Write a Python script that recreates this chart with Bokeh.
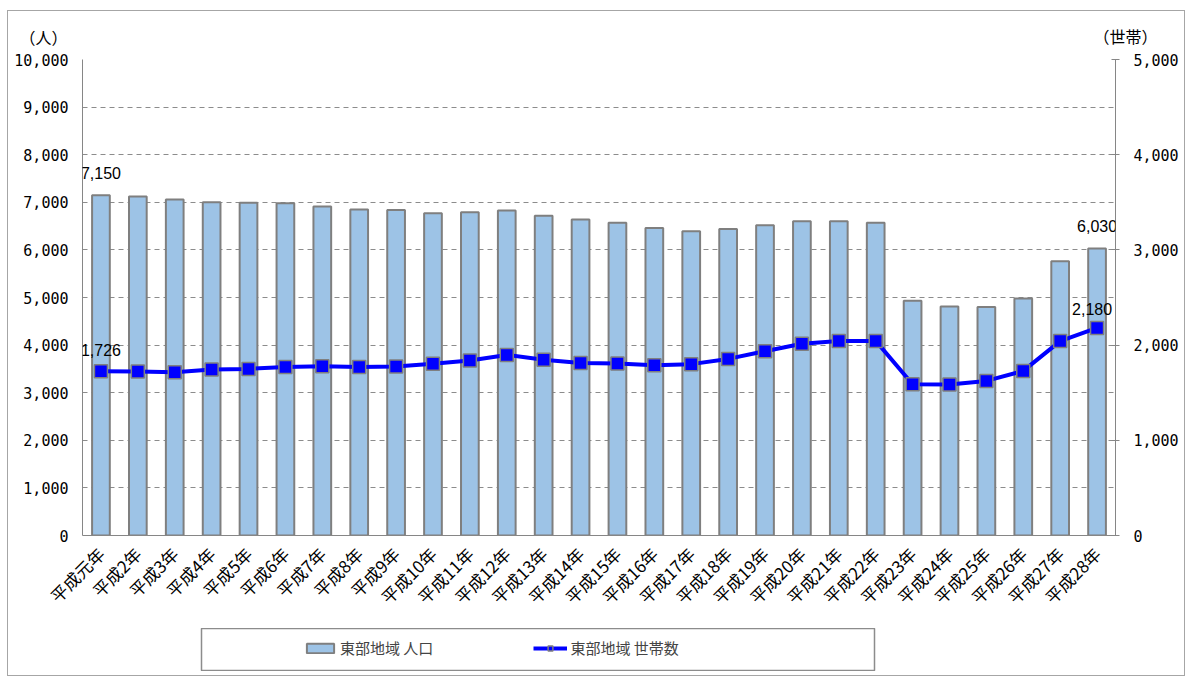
from bokeh.plotting import figure
from bokeh.models import (Range1d, LinearAxis, FixedTicker, Label, Legend, LegendItem,
                          NumeralTickFormatter, FactorRange)
from bokeh.layouts import column
from bokeh.embed import file_html
from bokeh.resources import INLINE
import math

years = ["平成元年", "平成2年", "平成3年", "平成4年", "平成5年", "平成6年", "平成7年",
         "平成8年", "平成9年", "平成10年", "平成11年", "平成12年", "平成13年", "平成14年",
         "平成15年", "平成16年", "平成17年", "平成18年", "平成19年", "平成20年", "平成21年",
         "平成22年", "平成23年", "平成24年", "平成25年", "平成26年", "平成27年", "平成28年"]
population = [7150, 7120, 7060, 7000, 6990, 6980, 6910, 6850, 6840, 6770, 6790, 6830, 6720, 6640,
              6570, 6460, 6390, 6440, 6520, 6600, 6600, 6570, 4930, 4810, 4800, 4980, 5760, 6030]
households = [1726, 1722, 1716, 1743, 1750, 1771, 1778, 1771, 1775, 1803, 1838, 1897, 1845, 1813,
              1806, 1789, 1800, 1855, 1936, 2015, 2044, 2044, 1589, 1586, 1624, 1729, 2042, 2180]
left_ticks = [0, 1000, 2000, 3000, 4000, 5000, 6000, 7000, 8000, 9000, 10000]
right_ticks = [0, 1000, 2000, 3000, 4000, 5000]
series_names = ["東部地域 人口", "東部地域 世帯数"]
unit_left = "（人）"
unit_right = "（世帯）"

CJK = "Noto Sans CJK JP"
MONO = "DejaVu Sans Mono"
GRAY = "#868686"
BAR_FILL = "#9DC3E6"
BAR_LINE = "#7F7F7F"
BLUE = "#0000FF"

p = figure(width=1176, height=617, x_range=FactorRange(*years), y_range=Range1d(0, 10000),
           output_backend="svg", toolbar_location=None,
           min_border_left=74, min_border_right=69, min_border_top=47, min_border_bottom=93)
p.extra_y_ranges = {"hh": Range1d(0, 5000)}
p.outline_line_color = None
p.background_fill_color = "white"

# grid
p.xgrid.grid_line_color = None
p.ygrid.ticker = FixedTicker(ticks=left_ticks)
p.ygrid.grid_line_color = "#8c8c8c"
p.ygrid.grid_line_dash = "5 4"
p.ygrid.grid_line_width = 1

# left axis
ya = p.yaxis[0]
ya.ticker = FixedTicker(ticks=left_ticks)
ya.formatter = NumeralTickFormatter(format="0,0")
ya.axis_line_color = GRAY
ya.major_tick_in = 0
ya.major_tick_out = 0
ya.minor_tick_line_color = None
ya.major_label_standoff = 14
ya.major_label_text_font = MONO
ya.major_label_text_font_size = "15px"
ya.major_label_text_color = "black"

# right axis
ra = LinearAxis(y_range_name="hh", ticker=FixedTicker(ticks=right_ticks),
                formatter=NumeralTickFormatter(format="0,0"))
ra.axis_line_color = GRAY
ra.major_tick_line_color = GRAY
ra.major_tick_in = 4
ra.major_tick_out = 4
ra.minor_tick_line_color = None
ra.major_label_standoff = 14
ra.major_label_text_font = MONO
ra.major_label_text_font_size = "15px"
ra.major_label_text_color = "black"
p.add_layout(ra, "right")

# x axis
xa = p.xaxis[0]
xa.axis_line_color = GRAY
xa.major_tick_line_color = None
xa.minor_tick_line_color = None
xa.major_label_orientation = math.pi / 4
xa.major_label_standoff = 9
xa.major_label_text_font = CJK
xa.major_label_text_font_size = "17px"
xa.major_label_text_color = "black"

bars = p.vbar(x=years, top=population, width=0.48, fill_color=BAR_FILL,
              line_color=BAR_LINE, line_width=2)
line = p.line(x=years, y=households, y_range_name="hh", line_color=BLUE, line_width=4)
marks = p.scatter(x=years, y=households, y_range_name="hh", marker="square", size=13,
                  fill_color=BLUE, line_color=BAR_LINE, line_width=1.5)

# data labels
lab_style = dict(text_font="Liberation Sans", text_font_size="16px", text_color="black",
                 text_align="center", text_baseline="middle")
p.add_layout(Label(x=0.5, y=population[0], text=f"{population[0]:,}", y_offset=22, **lab_style))
p.add_layout(Label(x=len(years) - 0.5, y=population[-1], text=f"{population[-1]:,}",
                   y_offset=22, **lab_style))
p.add_layout(Label(x=0.5, y=households[0], y_range_name="hh", text=f"{households[0]:,}",
                   y_offset=21, **lab_style))
p.add_layout(Label(x=len(years) - 0.5, y=households[-1], y_range_name="hh",
                   text=f"{households[-1]:,}", x_offset=-5, y_offset=19, **lab_style))

# unit labels in the panels above the frame (screen units, relative to each panel)
unit_style = dict(text_font=CJK, text_font_size="16px", text_color="black",
                  text_align="center", text_baseline="middle")
p.add_layout(Label(x=-39, y=23, x_units="screen", y_units="screen", text=unit_left, **unit_style), "above")
p.add_layout(Label(x=1043, y=0, x_units="screen", y_units="screen", text=unit_right, **unit_style), "above")

# legend box: a small separate figure holding the legend swatches
# (swatch renderers sit outside its ranges, so only their legend entries show)
lg = figure(width=816, height=43, output_backend="svg", toolbar_location=None,
            x_axis_type=None, y_axis_type=None, x_range=Range1d(0, 1), y_range=Range1d(0, 1),
            min_border_left=74, min_border_right=69, min_border_top=0, min_border_bottom=0,
            margin=(0, 0, 4, 119))
lg.outline_line_color = "#8c8c8c"
lg.outline_line_width = 1.5
for g in lg.grid:
    g.visible = False
off = [-5]
sw_bar = lg.vbar(x=off, top=off, width=0.5, fill_color=BAR_FILL, line_color=BAR_LINE, line_width=2)
sw_line = lg.line(x=off, y=off, line_color=BLUE, line_width=4)
sw_mark = lg.scatter(x=off, y=off, marker="square", size=11, fill_color=BLUE,
                     line_color=BAR_LINE, line_width=1.5)
legend = Legend(items=[LegendItem(label=series_names[0], renderers=[sw_bar]),
                       LegendItem(label=series_names[1], renderers=[sw_line, sw_mark])],
                orientation="horizontal", location=(102, 13), margin=0, padding=0,
                spacing=100, glyph_width=34, glyph_height=12, label_standoff=3,
                label_text_font=CJK, label_text_font_size="15px",
                border_line_color=None, background_fill_alpha=0)
lg.add_layout(legend)

page = column(p, lg, styles={"border": "1px solid #a6a6a6", "margin-left": "7px",
                             "margin-top": "10px", "background-color": "white"})

open("out.html", "w").write(file_html(page, INLINE))
